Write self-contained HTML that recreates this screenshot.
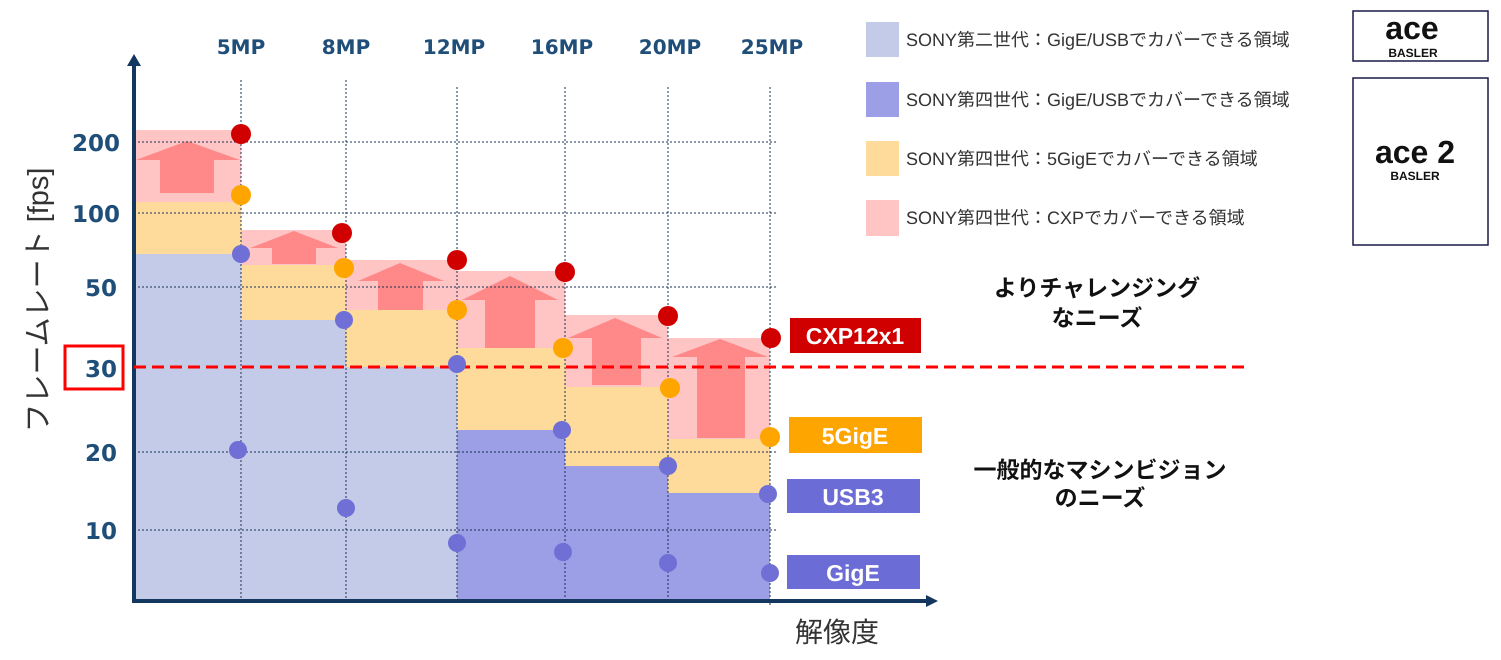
<!DOCTYPE html>
<html><head><meta charset="utf-8"><style>
html,body{margin:0;padding:0;background:#fff;width:1501px;height:660px;overflow:hidden}
svg{display:block}
.t{font-family:"Liberation Sans","Noto Sans CJK JP",sans-serif}
.d{font-family:"DejaVu Sans","Liberation Sans",sans-serif}
</style></head><body>
<svg width="1501" height="660" viewBox="0 0 1501 660" xmlns="http://www.w3.org/2000/svg" text-rendering="geometricPrecision">
<g>
<rect x="134" y="130" width="107" height="72" fill="#ffc4c4"/>
<rect x="134" y="202" width="107" height="52" fill="#fedb9a"/>
<rect x="134" y="254" width="107" height="347" fill="#c3cbe9"/>
<rect x="241" y="230" width="105" height="35" fill="#ffc4c4"/>
<rect x="241" y="265" width="105" height="55" fill="#fedb9a"/>
<rect x="241" y="320" width="105" height="281" fill="#c3cbe9"/>
<rect x="346" y="260" width="111" height="50" fill="#ffc4c4"/>
<rect x="346" y="310" width="111" height="57" fill="#fedb9a"/>
<rect x="346" y="367" width="111" height="234" fill="#c3cbe9"/>
<rect x="457" y="271" width="108" height="77" fill="#ffc4c4"/>
<rect x="457" y="348" width="108" height="82" fill="#fedb9a"/>
<rect x="457" y="430" width="108" height="171" fill="#9c9ee6"/>
<rect x="565" y="315" width="103" height="72" fill="#ffc4c4"/>
<rect x="565" y="387" width="103" height="79" fill="#fedb9a"/>
<rect x="565" y="466" width="103" height="135" fill="#9c9ee6"/>
<rect x="668" y="338" width="102" height="101" fill="#ffc4c4"/>
<rect x="668" y="439" width="102" height="54" fill="#fedb9a"/>
<rect x="668" y="493" width="102" height="108" fill="#9c9ee6"/>
</g>
<g fill="#ff8888">
<polygon points="136,160 187,141 240,160 214,160 214,193 160,193 160,160"/>
<polygon points="250,248 294,231 338,248 316,248 316,264 272,264 272,248"/>
<polygon points="358,281 400,263 444,281 423,281 423,310 378,310 378,281"/>
<polygon points="462,300 510,276 558,300 535,300 535,348 485,348 485,300"/>
<polygon points="568,338 615,318 662,338 641,338 641,385 592,385 592,338"/>
<polygon points="672,357 720,339 768,357 745,357 745,438 697,438 697,357"/>
</g>
<g stroke="#1a3358" stroke-width="1" stroke-dasharray="2,2" fill="none">
<line x1="134" y1="142" x2="778" y2="142"/>
<line x1="134" y1="213" x2="778" y2="213"/>
<line x1="134" y1="287" x2="778" y2="287"/>
<line x1="134" y1="452" x2="778" y2="452"/>
<line x1="134" y1="530" x2="778" y2="530"/>
<line x1="241" y1="80" x2="241" y2="601"/>
<line x1="346" y1="80" x2="346" y2="601"/>
<line x1="457" y1="87" x2="457" y2="601"/>
<line x1="565" y1="87" x2="565" y2="601"/>
<line x1="668" y1="87" x2="668" y2="601"/>
<line x1="770" y1="87" x2="770" y2="605"/>
</g>
<line x1="134" y1="66" x2="134" y2="602" stroke="#14375f" stroke-width="4"/>
<polygon points="127,66 134,54 141,66" fill="#14375f"/>
<line x1="132" y1="601" x2="928" y2="601" stroke="#14375f" stroke-width="4"/>
<polygon points="926,595 938,601 926,607" fill="#14375f"/>
<line x1="134" y1="367" x2="1248" y2="367" stroke="#ff0000" stroke-width="3" stroke-dasharray="12,6"/>
<rect x="65" y="346" width="58" height="43" fill="none" stroke="#ff0000" stroke-width="3"/>
<g fill="#d00000">
<circle cx="241" cy="134" r="10"/><circle cx="342" cy="233" r="10"/><circle cx="457" cy="260" r="10"/><circle cx="565" cy="272" r="10"/><circle cx="668" cy="316" r="10"/><circle cx="771" cy="338" r="10"/>
</g>
<g fill="#ffa500">
<circle cx="241" cy="195" r="10"/><circle cx="344" cy="268" r="10"/><circle cx="457" cy="310" r="10"/><circle cx="563" cy="348" r="10"/><circle cx="670" cy="388" r="10"/><circle cx="770" cy="437" r="10"/>
</g>
<g fill="#6f6fd6">
<circle cx="241" cy="254" r="9"/><circle cx="344" cy="320" r="9"/><circle cx="457" cy="364" r="9"/><circle cx="562" cy="430" r="9"/><circle cx="668" cy="466" r="9"/><circle cx="768" cy="494" r="9"/>
<circle cx="238" cy="450" r="9"/><circle cx="346" cy="508" r="9"/><circle cx="457" cy="543" r="9"/><circle cx="563" cy="552" r="9"/><circle cx="668" cy="563" r="9"/><circle cx="770" cy="573" r="9"/>
</g>
<g class="d" font-weight="bold" font-size="23" fill="#1f4e79" text-anchor="end">
<text x="120" y="151">200</text>
<text x="120" y="222">100</text>
<text x="117" y="296">50</text>
<text x="117" y="377">30</text>
<text x="117" y="461">20</text>
<text x="117" y="539">10</text>
</g>
<g class="d" font-weight="bold" font-size="20" fill="#1f4e79" text-anchor="middle">
<text x="241" y="54">5MP</text>
<text x="346" y="54">8MP</text>
<text x="454" y="54">12MP</text>
<text x="562" y="54">16MP</text>
<text x="670" y="54">20MP</text>
<text x="772" y="54">25MP</text>
</g>
<text class="t" font-size="29" fill="#333" text-anchor="middle" transform="translate(48,300) rotate(-90)">フレームレート [fps]</text>
<text class="t" font-size="28" fill="#333" x="795" y="642">解像度</text>
<rect x="866" y="22" width="33" height="35" fill="#c3cbe9"/>
<rect x="866" y="82" width="33" height="35" fill="#9c9ee6"/>
<rect x="866" y="141" width="33" height="35" fill="#fedb9a"/>
<rect x="866" y="200" width="33" height="36" fill="#ffc4c4"/>
<g class="t" font-size="18" fill="#333">
<text x="906" y="46">SONY第二世代：GigE/USBでカバーできる領域</text>
<text x="906" y="106">SONY第四世代：GigE/USBでカバーできる領域</text>
<text x="906" y="165">SONY第四世代：5GigEでカバーできる領域</text>
<text x="906" y="224">SONY第四世代：CXPでカバーできる領域</text>
</g>
<rect x="1353" y="11" width="135" height="50" fill="#fff" stroke="#1a1a4a" stroke-width="1.5"/>
<text class="t" x="1412" y="39" font-size="32" font-weight="bold" text-anchor="middle" fill="#111">ace</text>
<text class="t" x="1413" y="57" font-size="12" font-weight="bold" text-anchor="middle" fill="#111">BASLER</text>
<rect x="1353" y="78" width="135" height="167" fill="#fff" stroke="#1a1a4a" stroke-width="1.5"/>
<text class="t" x="1415" y="163" font-size="32" font-weight="bold" text-anchor="middle" fill="#111">ace 2</text>
<text class="t" x="1415" y="180" font-size="12" font-weight="bold" text-anchor="middle" fill="#111">BASLER</text>
<rect x="790" y="318" width="131" height="35" fill="#d00000"/>
<text class="t" x="855" y="344" font-size="23" font-weight="bold" fill="#fff" text-anchor="middle">CXP12x1</text>
<rect x="789" y="417" width="133" height="36" fill="#ffa500"/>
<text class="t" x="855" y="444" font-size="23" font-weight="bold" fill="#fff" text-anchor="middle">5GigE</text>
<rect x="787" y="479" width="133" height="34" fill="#6c6cd6"/>
<text class="t" x="853" y="505" font-size="23" font-weight="bold" fill="#fff" text-anchor="middle">USB3</text>
<rect x="787" y="555" width="133" height="34" fill="#6c6cd6"/>
<text class="t" x="853" y="581" font-size="23" font-weight="bold" fill="#fff" text-anchor="middle">GigE</text>
<g class="t" font-size="23" font-weight="bold" fill="#111" text-anchor="middle">
<text x="1097" y="296">よりチャレンジング</text>
<text x="1097" y="326">なニーズ</text>
<text x="1100" y="478">一般的なマシンビジョン</text>
<text x="1100" y="506">のニーズ</text>
</g>
</svg>
</body></html>
